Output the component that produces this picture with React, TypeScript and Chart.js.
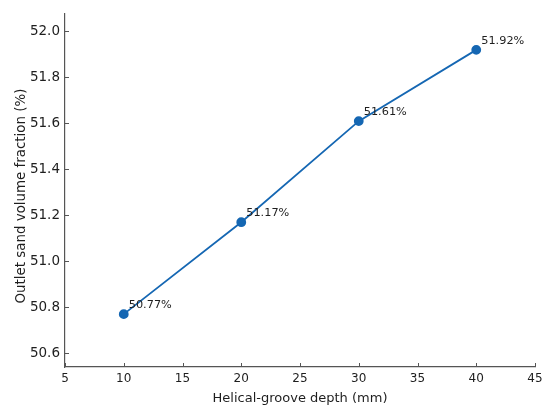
import React, { useEffect, useRef } from "react";
import { Chart, registerables } from "chart.js";

Chart.register(...registerables);

const depths = [10, 20, 30, 40];
const fractions = [50.77, 51.17, 51.61, 51.92];
const pointLabels = ["50.77%", "51.17%", "51.61%", "51.92%"];
const xTicks = [5, 10, 15, 20, 25, 30, 35, 40, 45];
const yTicks = [50.6, 50.8, 51.0, 51.2, 51.4, 51.6, 51.8, 52.0];
const xTitle = "Helical-groove depth (mm)";
const yTitle = "Outlet sand volume fraction (%)";

const FONT = "'DejaVu Sans', sans-serif";
const AXIS_COLOR = "#555555";
const TEXT_COLOR = "#1e1e1e";
const LINE_COLOR = "#1567b3";

const decorPlugin = {
  id: "decor",
  afterDraw(chart: any) {
    const ctx = chart.ctx;
    const xs = chart.scales.x;
    const ys = chart.scales.y;
    const area = chart.chartArea;
    ctx.save();
    // inward ticks
    ctx.strokeStyle = AXIS_COLOR;
    ctx.lineWidth = 1;
    ctx.beginPath();
    for (const v of xTicks) {
      const px = Math.round(xs.getPixelForValue(v)) + 0.5;
      ctx.moveTo(px, area.bottom);
      ctx.lineTo(px, area.bottom - 4);
    }
    for (const v of yTicks) {
      const py = Math.round(ys.getPixelForValue(v)) + 0.5;
      ctx.moveTo(area.left, py);
      ctx.lineTo(area.left + 4, py);
    }
    ctx.stroke();
    // data labels
    ctx.fillStyle = TEXT_COLOR;
    ctx.font = `11.3px ${FONT}`;
    ctx.textAlign = "left";
    ctx.textBaseline = "alphabetic";
    const meta = chart.getDatasetMeta(0);
    meta.data.forEach((pt: any, i: number) => {
      ctx.fillText(pointLabels[i], pt.x + 5, pt.y - 6);
    });
    // axis titles
    ctx.font = `13px ${FONT}`;
    ctx.textAlign = "center";
    ctx.textBaseline = "alphabetic";
    ctx.fillText(xTitle, (area.left + area.right) / 2, 401.5);
    ctx.translate(24.5, 196);
    ctx.rotate(-Math.PI / 2);
    ctx.font = `13.4px ${FONT}`;
    ctx.fillText(yTitle, 0, 0);
    ctx.restore();
  },
};

export default function App() {
  const ref = useRef<HTMLCanvasElement | null>(null);
  useEffect(() => {
    document.body.style.margin = "0";
    const canvas = ref.current;
    if (!canvas) return;
    const chart = new Chart(canvas, {
      type: "line",
      data: {
        datasets: [
          {
            data: depths.map((d, i) => ({ x: d, y: fractions[i] })),
            borderColor: LINE_COLOR,
            backgroundColor: LINE_COLOR,
            borderWidth: 1.8,
            pointRadius: 4,
            pointHoverRadius: 4,
            pointBackgroundColor: LINE_COLOR,
            pointBorderColor: LINE_COLOR,
            tension: 0,
            fill: false,
          },
        ],
      },
      options: {
        animation: false,
        responsive: false,
        maintainAspectRatio: false,
        devicePixelRatio: 1,
        layout: { padding: { left: 0, right: 15, top: 12, bottom: 0 } },
        plugins: {
          legend: { display: false },
          tooltip: { enabled: false },
        },
        scales: {
          x: {
            type: "linear",
            min: 5,
            max: 45,
            afterBuildTicks: (s: any) => {
              s.ticks = xTicks.map((v) => ({ value: v }));
            },
            afterFit: (s: any) => {
              s.height = 50;
            },
            grid: { display: false, drawTicks: false },
            border: { display: true, color: AXIS_COLOR, width: 1.2 },
            ticks: {
              color: TEXT_COLOR,
              font: { family: FONT, size: 12 },
              padding: 5,
              maxRotation: 0,
              callback: (v: any) => String(v),
            },
          },
          y: {
            type: "linear",
            min: 50.54,
            max: 52.08,
            afterBuildTicks: (s: any) => {
              s.ticks = yTicks.map((v) => ({ value: v }));
            },
            afterFit: (s: any) => {
              s.width = 65;
            },
            grid: { display: false, drawTicks: false },
            border: { display: true, color: AXIS_COLOR, width: 1.2 },
            ticks: {
              color: TEXT_COLOR,
              font: { family: FONT, size: 13.5 },
              padding: 5,
              callback: (v: any) => Number(v).toFixed(1),
            },
          },
        },
      },
      plugins: [decorPlugin],
    });
    return () => chart.destroy();
  }, []);
  return (
    <div style={{ position: "absolute", left: 0, top: 0, width: 550, height: 417, background: "#ffffff" }}>
      <canvas ref={ref} width={550} height={417} style={{ width: 550, height: 417 }} />
    </div>
  );
}
